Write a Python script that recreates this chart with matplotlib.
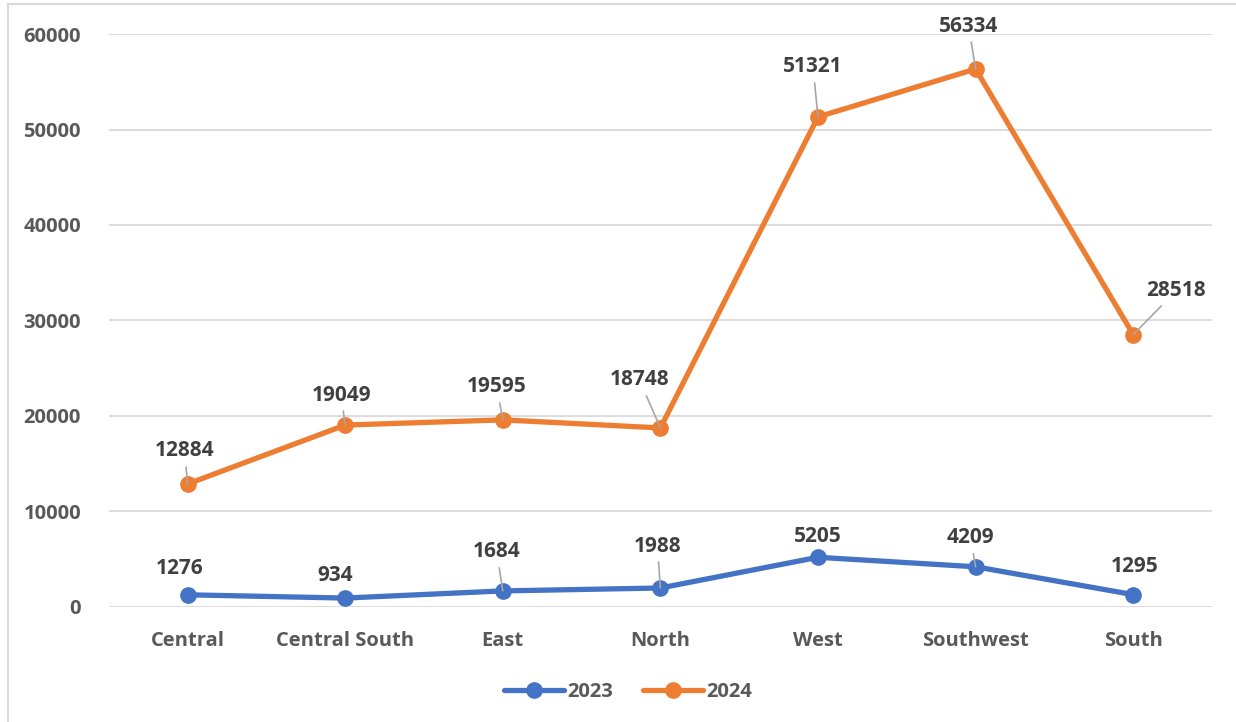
import matplotlib
matplotlib.use('Agg')
import matplotlib.pyplot as plt
from matplotlib.patches import Rectangle

regions = ['Central', 'Central South', 'East', 'North', 'West', 'Southwest', 'South']
vals_2023 = [1276, 934, 1684, 1988, 5205, 4209, 1295]
vals_2024 = [12884, 19049, 19595, 18748, 51321, 56334, 28518]

# label offsets in pixels (dx, dy) and whether a leader line is drawn
off_2023 = [(-8, 26, False), (-10, 23, False), (-6, 39, True), (-3, 42, True),
            (0, 21, False), (-5, 29, True), (1, 28, False)]
off_2024 = [(-3, 33, True), (-4, 30, True), (-6, 33, True), (-21, 48, True),
            (-5, 50, True), (-7, 43, True), (43, 44, True)]

plt.rcParams['font.family'] = ['Open Sans', 'DejaVu Sans']

fig = plt.figure(figsize=(12.36, 7.22), dpi=100)
ax = fig.add_axes([0.088, 0.1593, 0.8926, 0.7936])

x = list(range(len(regions)))
ax.plot(x, vals_2023, color='#4472C4', lw=3.8, marker='o', ms=11, label='2023',
        solid_capstyle='round', zorder=3)
ax.plot(x, vals_2024, color='#ED7D31', lw=3.8, marker='o', ms=11, label='2024',
        solid_capstyle='round', zorder=3)

for vals, offs in [(vals_2023, off_2023), (vals_2024, off_2024)]:
    for i, v in enumerate(vals):
        dx, dy, lead = offs[i]
        ap = dict(arrowstyle='-', color='#a6a6a6', lw=1.2, shrinkA=2, shrinkB=0) if lead else None
        ax.annotate(str(v), (i, v), xytext=(dx, dy), textcoords='offset pixels',
                    ha='center', va='center', fontsize=15, fontweight='bold',
                    color='#404040', arrowprops=ap, zorder=4)

ax.set_xlim(-0.5, len(regions) - 0.5)
ax.set_ylim(0, 60000)
ax.set_yticks(range(0, 60001, 10000))
ax.set_xticks(x)
ax.set_xticklabels(regions)
ax.grid(axis='y', color='#d9d9d9', lw=1.3)
ax.set_axisbelow(True)
for s in ax.spines.values():
    s.set_visible(False)
ax.tick_params(length=0, labelsize=14.5, labelcolor='#595959', pad=20)
ax.tick_params(axis='x', pad=17)
for t in ax.get_xticklabels() + ax.get_yticklabels():
    t.set_fontweight('bold')

leg = fig.legend(loc='center', bbox_to_anchor=(0.508, 0.042), ncol=2, frameon=False,
                 fontsize=14.5, handlelength=3.0, columnspacing=1.5, handletextpad=0.15)
for t in leg.get_texts():
    t.set_fontweight('bold')
    t.set_color('#595959')

fig.patches.append(Rectangle((8 / 1236, -0.01), 1.1, 1 - 4 / 722 + 0.01,
                             transform=fig.transFigure, fill=False,
                             edgecolor='#d9d9d9', lw=1.5))

fig.savefig('out.png', dpi=100)
